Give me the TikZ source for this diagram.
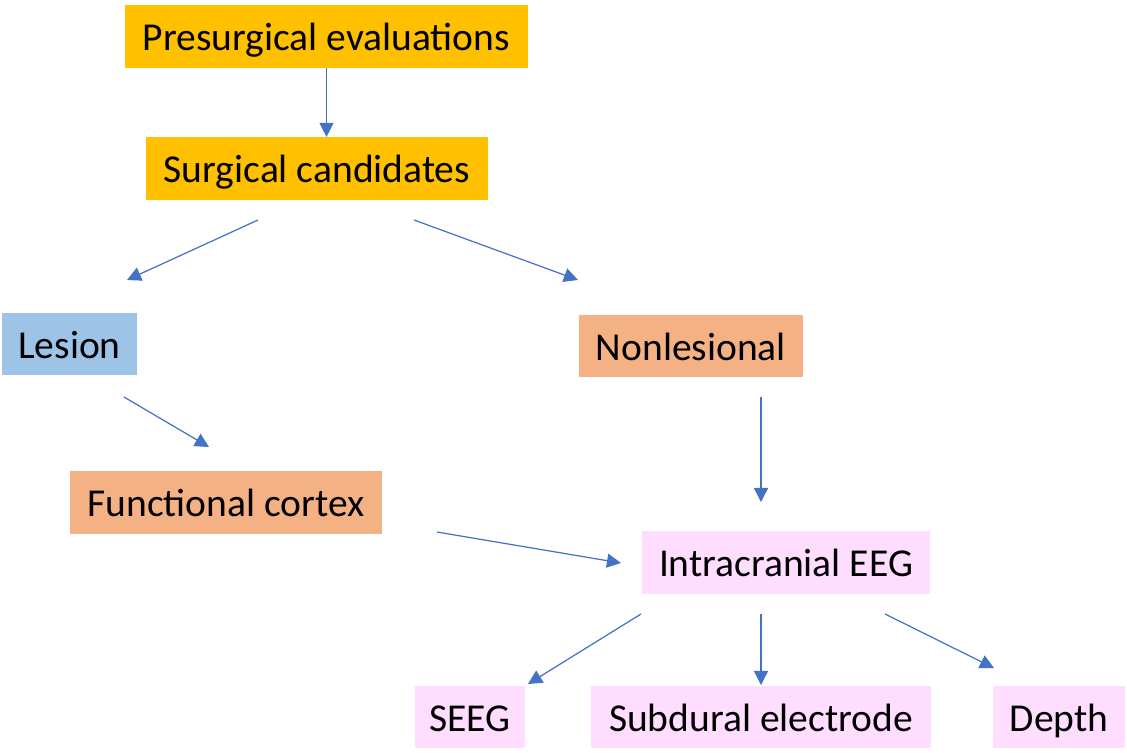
\documentclass[tikz,border=0pt]{standalone}
\usepackage{fontspec}
\setmainfont{Carlito}
\usetikzlibrary{arrows.meta,positioning}

\definecolor{boxgold}{HTML}{FFC000}
\definecolor{boxblue}{HTML}{9DC3E6}
\definecolor{boxpeach}{HTML}{F4B183}
\definecolor{boxpink}{HTML}{FFDDFF}
\definecolor{arrowblue}{HTML}{4472C4}

\tikzset{
  box/.style={inner sep=0pt, minimum height=1.25cm, text height=19pt, text depth=3pt,
    font=\fontsize{22.5}{27}\selectfont},
  flow/.style={-{Triangle[length=8pt,width=8pt]}, color=arrowblue, line width=0.7pt}
}

\begin{document}
\begin{tikzpicture}[x=0.02cm,y=-0.02cm]
    \useasboundingbox (0,0) rectangle (1127,752);

    % boxes
    \node[box,fill=boxgold,minimum width=8.06cm] (pre) at (326.5,36.5) {Presurgical evaluations};
    \node[box,fill=boxgold,minimum width=6.84cm] (cand) at (317,168.5) {Surgical candidates};
    \node[box,fill=boxblue,minimum width=2.7cm] (lesion) at (69.5,344) {Lesion};
    \node[box,fill=boxpeach,minimum width=4.48cm] (nonles) at (691,346) {Nonlesional};
    \node[box,fill=boxpeach,minimum width=6.24cm] (func) at (226,502.5) {Functional cortex};
    \node[box,fill=boxpink,minimum width=5.76cm] (ieeg) at (786,562.5) {Intracranial EEG};
    \node[box,fill=boxpink,minimum width=2.2cm] (seeg) at (470,717) {SEEG};
    \node[box,fill=boxpink,minimum width=6.8cm] (subdural) at (761,717) {Subdural electrode};
    \node[box,fill=boxpink,minimum width=2.64cm] (depth) at (1059,717) {Depth};

    % free arrow ends
    \coordinate (candL) at (258,220);
    \coordinate (candR) at (414,220);
    \coordinate (lesL) at (127,280);
    \coordinate (nonT) at (578,280);
    \coordinate (lesB) at (124,397);
    \coordinate (funcT) at (209,447);
    \coordinate (nonB) at (761,397);
    \coordinate (ieegT) at (761,502);
    \coordinate (funcR) at (437,532);
    \coordinate (ieegL) at (621,563);
    \coordinate (ieegBL) at (641,614);
    \coordinate (ieegB) at (761,614);
    \coordinate (ieegBR) at (885,614);
    \coordinate (seegT) at (528,684);
    \coordinate (subT) at (761,685);
    \coordinate (depthT) at (994,668);

    % arrows
    \draw[flow] (pre.south) -- (pre.south |- cand.north);
    \draw[flow] (candL) -- (lesL);
    \draw[flow] (candR) -- (nonT);
    \draw[flow] (lesB) -- (funcT);
    \draw[flow] (nonB) -- (ieegT);
    \draw[flow] (funcR) -- (ieegL);
    \draw[flow] (ieegBL) -- (seegT);
    \draw[flow] (ieegB) -- (subT);
    \draw[flow] (ieegBR) -- (depthT);
\end{tikzpicture}
\end{document}
